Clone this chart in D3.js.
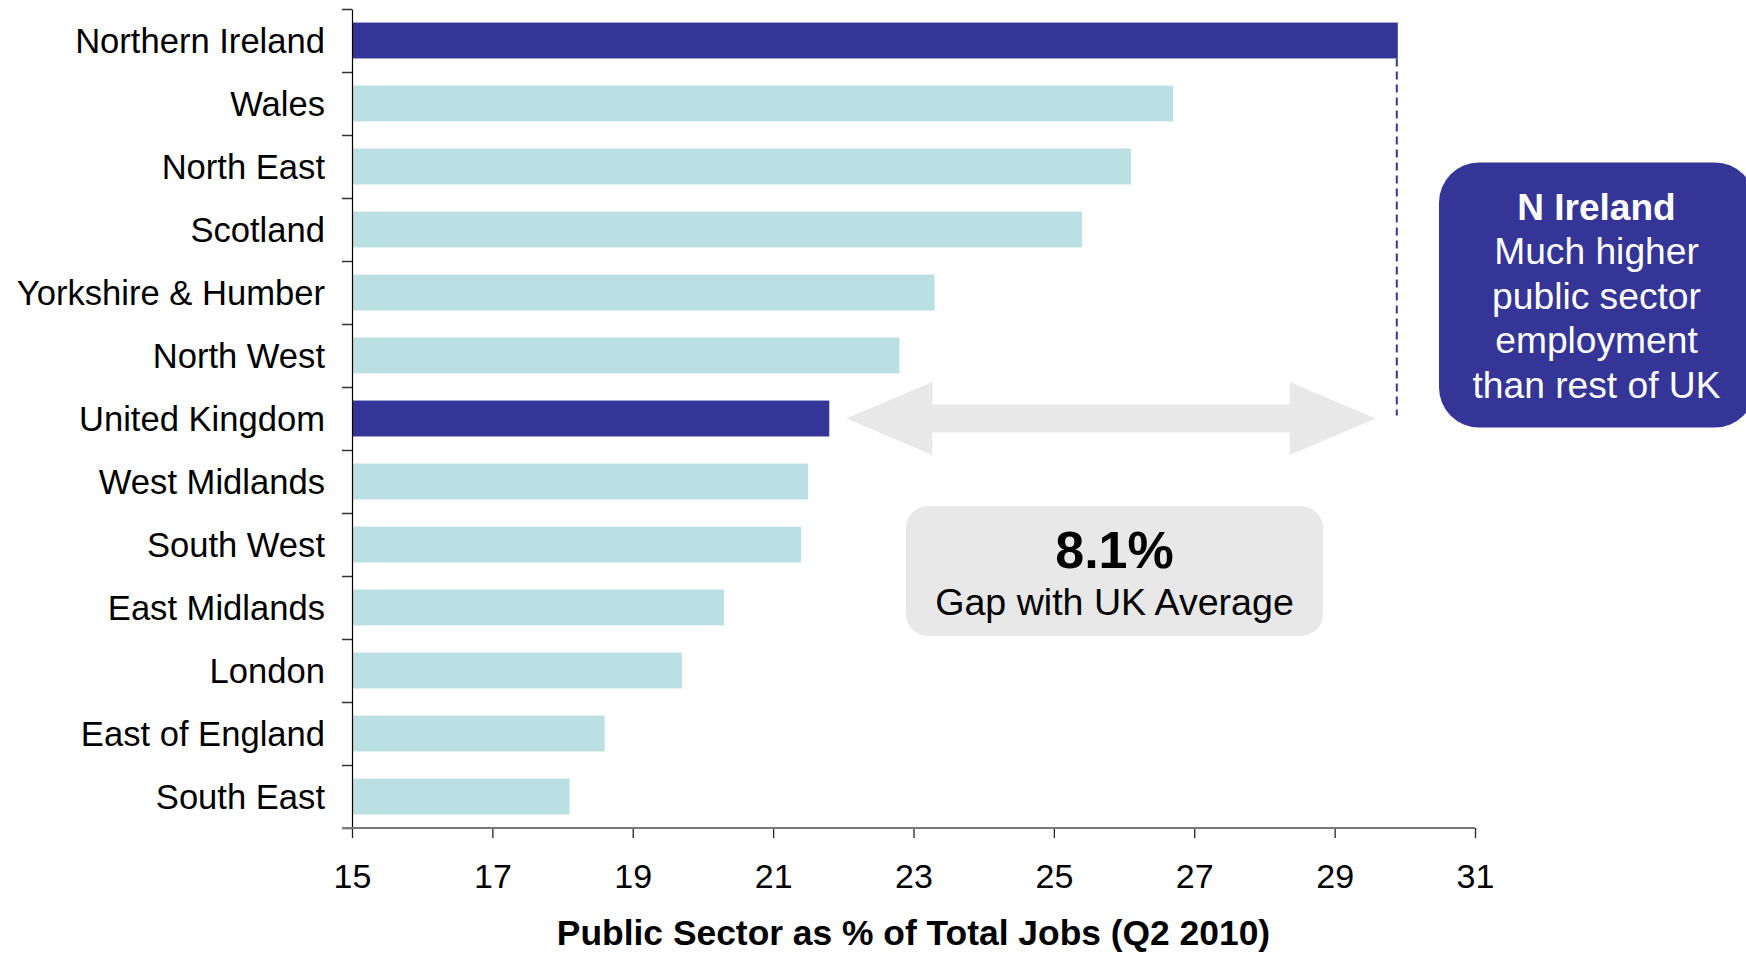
<!DOCTYPE html>
<html>
<head>
<meta charset="utf-8">
<script src="https://d3js.org/d3.v7.min.js"></script>
<style>
  body{ margin:0; background:#fff; }
  text{ font-family:"Liberation Sans", Arial, sans-serif; }
</style>
</head>
<body>
<div id="graph"></div>
<script>
// data
const regions = ["Northern Ireland","Wales","North East","Scotland","Yorkshire & Humber","North West",
                 "United Kingdom","West Midlands","South West","East Midlands","London","East of England","South East"];
const shares = [29.9,26.7,26.1,25.4,23.3,22.8,21.8,21.5,21.4,20.3,19.7,18.6,18.1];
const highlighted = ["Northern Ireland","United Kingdom"];
const xTicks = [15,17,19,21,23,25,27,29,31];
const xTitle = "Public Sector as % of Total Jobs (Q2 2010)";
const gapLabel = "Gap with UK Average";
const noteTitle = "N Ireland";
const noteLines = ["Much higher","public sector","employment","than rest of UK"];

const w = 1746, h = 956;
const dark = "#353597", light = "#bbe0e3", grey = "#e8e8e8";

const svg = d3.select("#graph").append("svg").attr("width", w).attr("height", h);

const x = d3.scaleLinear().domain([15,31]).range([352,1475]);
const y = d3.scaleBand().domain(regions).range([9,828]).paddingInner(0.43).paddingOuter(0.215);
const yEdge = d3.scaleLinear().domain([0,regions.length]).range([9,828]);

const rows = regions.map((r,i) => ({region:r, value:shares[i]}));

// bars
svg.selectAll("rect.bar")
   .data(rows)
   .enter()
   .append("rect")
   .attr("class","bar")
   .attr("x", x(15))
   .attr("y", d => y(d.region))
   .attr("width", d => x(d.value) - x(15))
   .attr("height", y.bandwidth())
   .attr("fill", d => highlighted.includes(d.region) ? dark : light);

// y axis: boundary ticks
const yAxisG = svg.append("g")
   .attr("transform","translate("+x(15)+",0)")
   .call(d3.axisLeft(yEdge).tickValues(d3.range(regions.length+1)).tickFormat("").tickSize(10).tickSizeOuter(0));
yAxisG.select(".domain").attr("stroke","#000").attr("stroke-width",1.2);
yAxisG.selectAll(".tick line").attr("stroke","#333").attr("stroke-width",1.5);

// y labels
const yLab = svg.append("g")
   .attr("transform","translate("+x(15)+",0)")
   .call(d3.axisLeft(y).tickSize(0).tickPadding(27));
yLab.select(".domain").remove();
yLab.selectAll("text").attr("font-size",34.6).attr("fill","#000").attr("dy","0.37em")
   .style("font-family",'"Liberation Sans", Arial, sans-serif');

// x axis
const xAxisG = svg.append("g")
   .attr("transform","translate(0,828)")
   .call(d3.axisBottom(x).tickValues(xTicks).tickSize(10).tickPadding(26).tickSizeOuter(0));
xAxisG.select(".domain").remove();
xAxisG.selectAll(".tick line").attr("stroke","#222").attr("stroke-width",1.3);
xAxisG.selectAll("text").attr("font-size",34).attr("fill","#000")
   .style("font-family",'"Liberation Sans", Arial, sans-serif');
xAxisG.append("line")
   .attr("x1", x(15)-10).attr("x2", x(31))
   .attr("y1",0).attr("y2",0)
   .attr("stroke","#7a7a7a").attr("stroke-width",2);

svg.append("text")
   .attr("x", (x(15)+x(31))/2).attr("y", 945)
   .attr("text-anchor","middle").attr("font-size",35.4).attr("font-weight","bold")
   .text(xTitle);

// annotations
const niVal = shares[regions.indexOf("Northern Ireland")];
const ukVal = shares[regions.indexOf("United Kingdom")];
const cy = y("United Kingdom") + y.bandwidth()/2;

// dashed drop line from NI bar
svg.append("line")
   .attr("x1", x(niVal)-1).attr("x2", x(niVal)-1)
   .attr("y1", y("Northern Ireland")+y.bandwidth()).attr("y2", cy-3)
   .attr("stroke", dark).attr("stroke-width",2).attr("stroke-dasharray","8,5");

// double arrow
const ax1 = x(ukVal)+17, ax2 = x(niVal)-22, head = 86, hh = 36.5, sh = 14;
const arrowPts = [
  [ax1,cy],[ax1+head,cy-hh],[ax1+head,cy-sh],[ax2-head,cy-sh],[ax2-head,cy-hh],
  [ax2,cy],[ax2-head,cy+hh],[ax2-head,cy+sh],[ax1+head,cy+sh],[ax1+head,cy+hh]
];
svg.append("path")
   .attr("d", d3.line()(arrowPts) + "Z")
   .attr("fill", grey);

// gap box
svg.append("rect")
   .attr("x",906).attr("y",506).attr("width",417).attr("height",130).attr("rx",22)
   .attr("fill", grey);
svg.append("text")
   .attr("x",1114.5).attr("y",568).attr("text-anchor","middle")
   .attr("font-size",52).attr("font-weight","bold")
   .text(d3.format(".1f")(niVal-ukVal) + "%");
svg.append("text")
   .attr("x",1114.5).attr("y",615).attr("text-anchor","middle")
   .attr("font-size",37.6)
   .text(gapLabel);

// N Ireland note
svg.append("rect")
   .attr("x",1439).attr("y",162.5).attr("width",316).attr("height",265).attr("rx",40)
   .attr("fill", dark);
svg.append("text")
   .attr("x",1596.5).attr("y",220).attr("text-anchor","middle")
   .attr("font-size",37).attr("font-weight","bold").attr("fill","#fff")
   .text(noteTitle);
svg.selectAll("text.note")
   .data(noteLines)
   .enter()
   .append("text")
   .attr("class","note")
   .attr("x",1596.5).attr("y",(d,i) => 264 + i*44.7)
   .attr("text-anchor","middle").attr("font-size",37.2).attr("fill","#fff")
   .text(d => d);
</script>
</body>
</html>
